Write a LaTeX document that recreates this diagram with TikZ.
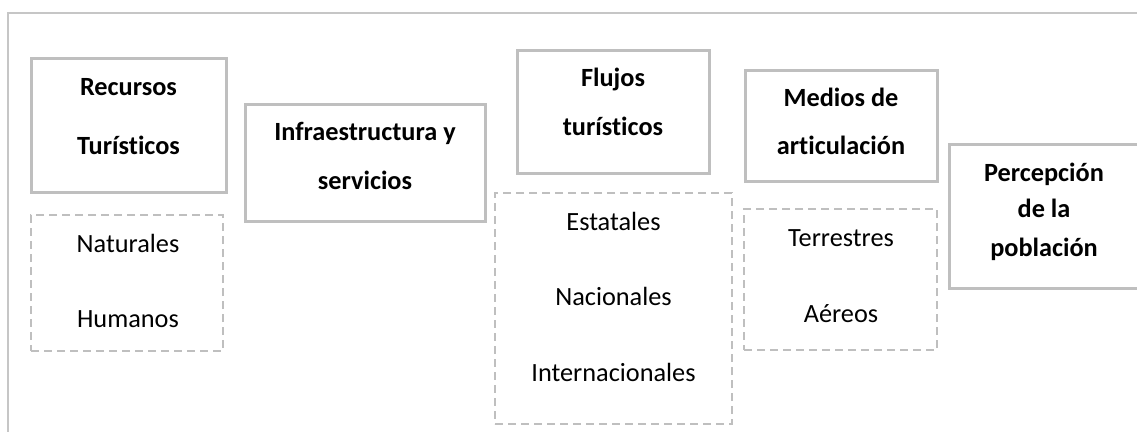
\documentclass[tikz,border=0pt]{standalone}
\usepackage{fontspec}
\setmainfont{Carlito}[Ligatures={NoCommon}]
\definecolor{boxgray}{HTML}{BFBFBF}
\definecolor{framegray}{HTML}{C6C6C6}
\tikzset{
  solidbox/.style={draw=boxgray, line width=3pt, rectangle, inner sep=0pt, fill=white},
  dashbox/.style={draw=boxgray, line width=1.7pt, rectangle, inner sep=0pt, dash pattern=on 8pt off 5pt},
  title/.style={anchor=base, inner sep=0pt, font=\fontsize{26.3}{30}\selectfont\bfseries},
  item/.style={anchor=base, inner sep=0pt, font=\fontsize{26.3}{30}\selectfont},
  frameline/.style={draw=framegray, line width=2pt}
}
\begin{document}
\begin{tikzpicture}[x=1pt,y=-1pt]
\useasboundingbox (0,0) rectangle (1137,431);
% frame
\coordinate (fbl) at (8,432);
\coordinate (ftl) at (8,13);
\coordinate (ftr) at (1138,13);
\draw[frameline] (fbl) -- (ftl) -- (ftr);
% solid boxes
\node[solidbox, minimum width=195pt, minimum height=134pt] (b1) at (128.5,125) {};
\node[solidbox, minimum width=240pt, minimum height=117pt] (b2) at (365,162.5) {};
\node[solidbox, minimum width=192pt, minimum height=123pt] (b3) at (613,111.5) {};
\node[solidbox, minimum width=192pt, minimum height=111pt] (b4) at (841,125.5) {};
\node[solidbox, minimum width=191pt, minimum height=144pt] (b5) at (1044.5,216) {};
% dashed boxes
\node[dashbox, minimum width=192pt, minimum height=136pt] (d1) at (127,283) {};
\node[dashbox, minimum width=237pt, minimum height=231pt] (d2) at (613.5,308.5) {};
\node[dashbox, minimum width=193pt, minimum height=141pt] (d3) at (840.5,279.5) {};
% titles
\node[title] (t1a) at (128.5,95) {Recursos};
\node[title] (t1b) at (128.5,154) {Turísticos};
\node[title] (t2a) at (365,140) {Infraestructura y};
\node[title] (t2b) at (365,189) {servicios};
\node[title] (t3a) at (613,86) {Flujos};
\node[title] (t3b) at (613,135) {turísticos};
\node[title] (t4a) at (841,106) {Medios de};
\node[title] (t4b) at (841,154) {articulación};
\node[title] (t5a) at (1044,181) {Percepción};
\node[title] (t5b) at (1044,217) {de la};
\node[title] (t5c) at (1044,256) {población};
% items
\node[item] (i1a) at (128,252) {Naturales};
\node[item] (i1b) at (128,327) {Humanos};
\node[item] (i2a) at (613.5,230) {Estatales};
\node[item] (i2b) at (613.5,305) {Nacionales};
\node[item] (i2c) at (613.5,381) {Internacionales};
\node[item] (i3a) at (841,246) {Terrestres};
\node[item] (i3b) at (841,322) {Aéreos};
\end{tikzpicture}
\end{document}
